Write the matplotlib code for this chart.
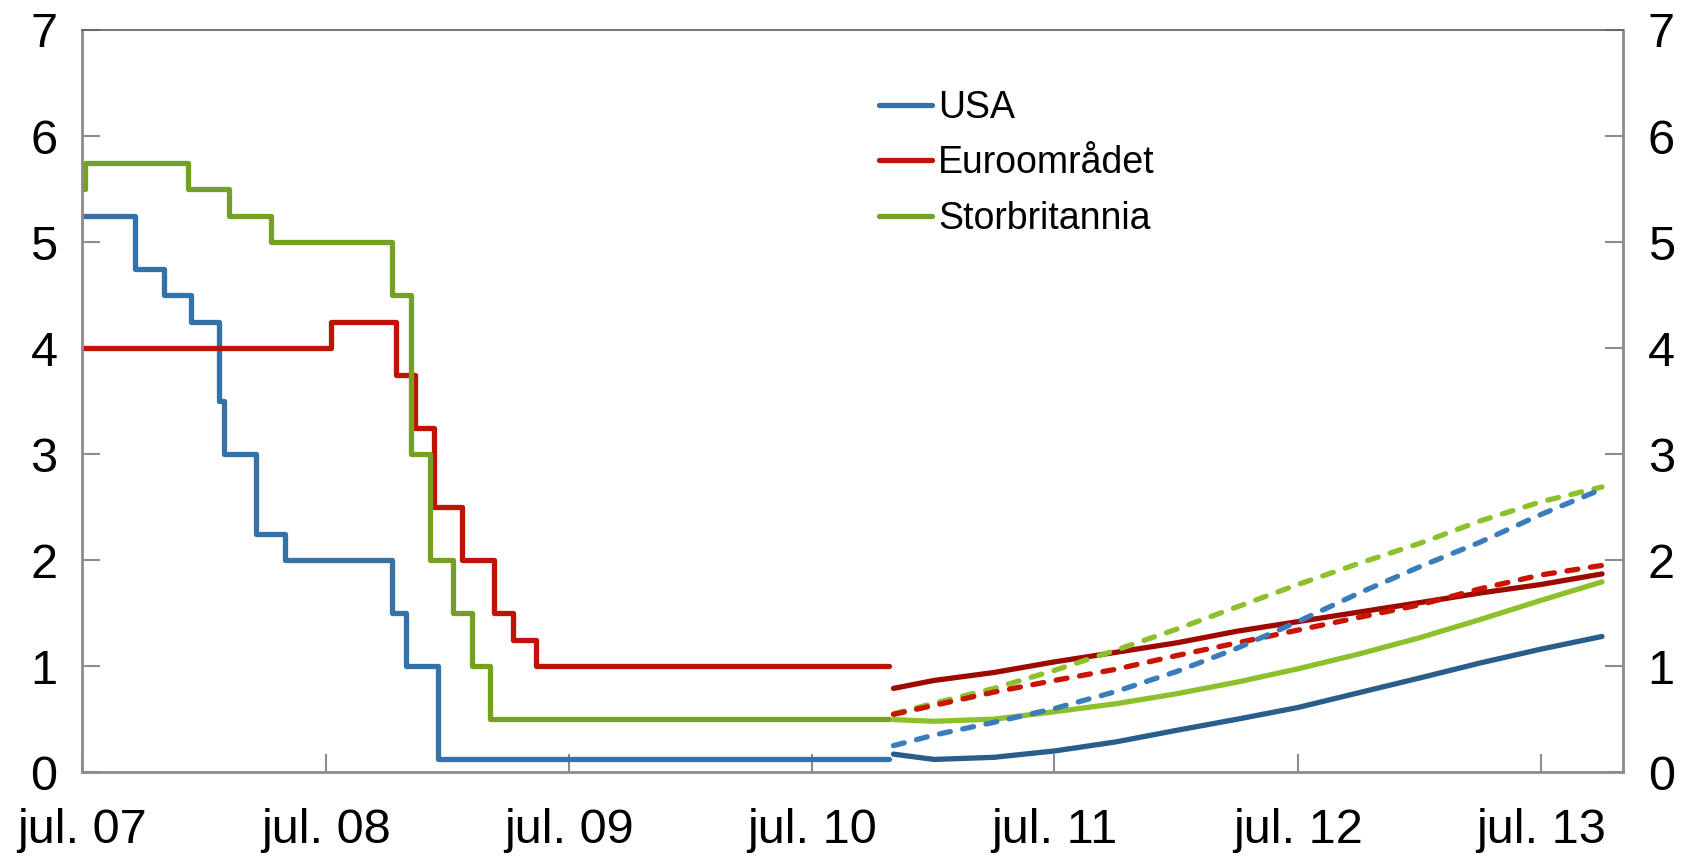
import matplotlib
matplotlib.use("Agg")
import matplotlib.pyplot as plt
import numpy as np
import pandas as pd

plt.rcParams['font.family'] = ['Liberation Sans', 'DejaVu Sans']

# ---------------- data ----------------
step_end = "2010-10-25"

usa_dates = ["2007-07-01", "2007-09-18", "2007-10-31", "2007-12-11", "2008-01-22",
             "2008-01-30", "2008-03-18", "2008-04-30", "2008-10-08", "2008-10-29",
             "2008-12-16"]
usa_rates = [5.25, 4.75, 4.50, 4.25, 3.50, 3.00, 2.25, 2.00, 1.50, 1.00, 0.125]

euro_dates = ["2007-07-01", "2008-07-09", "2008-10-15", "2008-11-12", "2008-12-10",
              "2009-01-21", "2009-03-11", "2009-04-08", "2009-05-13"]
euro_rates = [4.00, 4.25, 3.75, 3.25, 2.50, 2.00, 1.50, 1.25, 1.00]

uk_dates = ["2007-07-01", "2007-07-05", "2007-12-06", "2008-02-07", "2008-04-10",
            "2008-10-08", "2008-11-06", "2008-12-04", "2009-01-08", "2009-02-05",
            "2009-03-05"]
uk_rates = [5.50, 5.75, 5.50, 5.25, 5.00, 4.50, 3.00, 2.00, 1.50, 1.00, 0.50]

fwd_dates = ["2010-11-01", "2011-01-01", "2011-04-01", "2011-07-01", "2011-10-01",
             "2012-01-01", "2012-04-01", "2012-07-01", "2012-10-01", "2013-01-01",
             "2013-04-01", "2013-07-01", "2013-10-01"]
usa_fwd_new = [0.17, 0.12, 0.14, 0.20, 0.285, 0.395, 0.50, 0.61, 0.75, 0.89, 1.03, 1.16, 1.28]
usa_fwd_old = [0.25, 0.35, 0.47, 0.60, 0.76, 0.95, 1.17, 1.42, 1.69, 1.94, 2.17, 2.43, 2.67]
euro_fwd_new = [0.79, 0.865, 0.94, 1.04, 1.13, 1.22, 1.33, 1.42, 1.51, 1.60, 1.69, 1.77, 1.87]
euro_fwd_old = [0.545, 0.63, 0.755, 0.865, 0.97, 1.10, 1.22, 1.34, 1.46, 1.58, 1.73, 1.86, 1.95]
uk_fwd_new = [0.495, 0.48, 0.50, 0.57, 0.645, 0.74, 0.85, 0.975, 1.115, 1.27, 1.44, 1.62, 1.795]
uk_fwd_old = [0.55, 0.65, 0.79, 0.96, 1.15, 1.35, 1.56, 1.77, 1.97, 2.16, 2.37, 2.55, 2.69]

tick_dates = ["2007-07-01", "2008-07-01", "2009-07-01", "2010-07-01",
              "2011-07-01", "2012-07-01", "2013-07-01"]
tick_labels = ["jul. 07", "jul. 08", "jul. 09", "jul. 10", "jul. 11", "jul. 12", "jul. 13"]
y_ticks = [0, 1, 2, 3, 4, 5, 6, 7]
series_names = ["USA", "Euroområdet", "Storbritannia"]

# ---------------- styles ----------------
c_usa, c_euro, c_uk = "#3572A8", "#BE1408", "#76A023"
c_usa_new, c_euro_new, c_uk_new = "#285D8C", "#9E0A02", "#8DC02B"
c_usa_old, c_euro_old, c_uk_old = "#3A7DBA", "#C81400", "#8DC02B"
lw = 3.8
dash = (2.1, 2.4)
spine_col = "#8C8C8C"

fig = plt.figure(figsize=(17, 8.57), dpi=100)
ax = fig.add_axes([0.0485, 0.099, 0.906, 0.866])


def step_series(dates, rates):
    d = pd.to_datetime(dates + [step_end])
    r = list(rates) + [rates[-1]]
    return d, r


for dates, rates, col, name in [(usa_dates, usa_rates, c_usa, series_names[0]),
                                (euro_dates, euro_rates, c_euro, series_names[1]),
                                (uk_dates, uk_rates, c_uk, series_names[2])]:
    d, r = step_series(dates, rates)
    ax.plot(d, r, drawstyle="steps-post", color=col, lw=lw, label=name,
            solid_joinstyle="round", solid_capstyle="round")

fd = pd.to_datetime(fwd_dates)
for vals, col in [(usa_fwd_new, c_usa_new), (euro_fwd_new, c_euro_new), (uk_fwd_new, c_uk_new)]:
    ax.plot(fd, vals, color=col, lw=lw, solid_capstyle="round", solid_joinstyle="round")
for vals, col in [(uk_fwd_old, c_uk_old), (euro_fwd_old, c_euro_old), (usa_fwd_old, c_usa_old)]:
    ax.plot(fd, vals, color=col, lw=lw, dashes=dash, dash_capstyle="round")

ax.set_xlim(pd.Timestamp("2007-07-01"), pd.Timestamp("2013-11-01"))
ax.set_ylim(0, 7)
ax.set_xticks(pd.to_datetime(tick_dates))
ax.set_xticklabels(tick_labels)
ax.set_yticks(y_ticks)
ax.set_yticklabels([str(v) for v in y_ticks])

ax.tick_params(axis="both", direction="in", length=13, width=1.5, color=spine_col,
               labelsize=35, labelcolor="black")
ax.tick_params(axis="y", right=True, labelright=True, pad=18)
ax.tick_params(axis="x", pad=26)

for s in ["left", "bottom", "right"]:
    ax.spines[s].set_color(spine_col)
    ax.spines[s].set_linewidth(2)
ax.spines["top"].set_color("#606060")
ax.spines["top"].set_linewidth(1.2)

leg = ax.legend(loc="upper left", bbox_to_anchor=(0.517, 0.895),
                bbox_transform=fig.transFigure, frameon=False, fontsize=27,
                handlelength=1.42, handletextpad=0.16, labelspacing=0.52,
                borderpad=0, borderaxespad=0)

fig.savefig("out.png", dpi=100, facecolor="white")
